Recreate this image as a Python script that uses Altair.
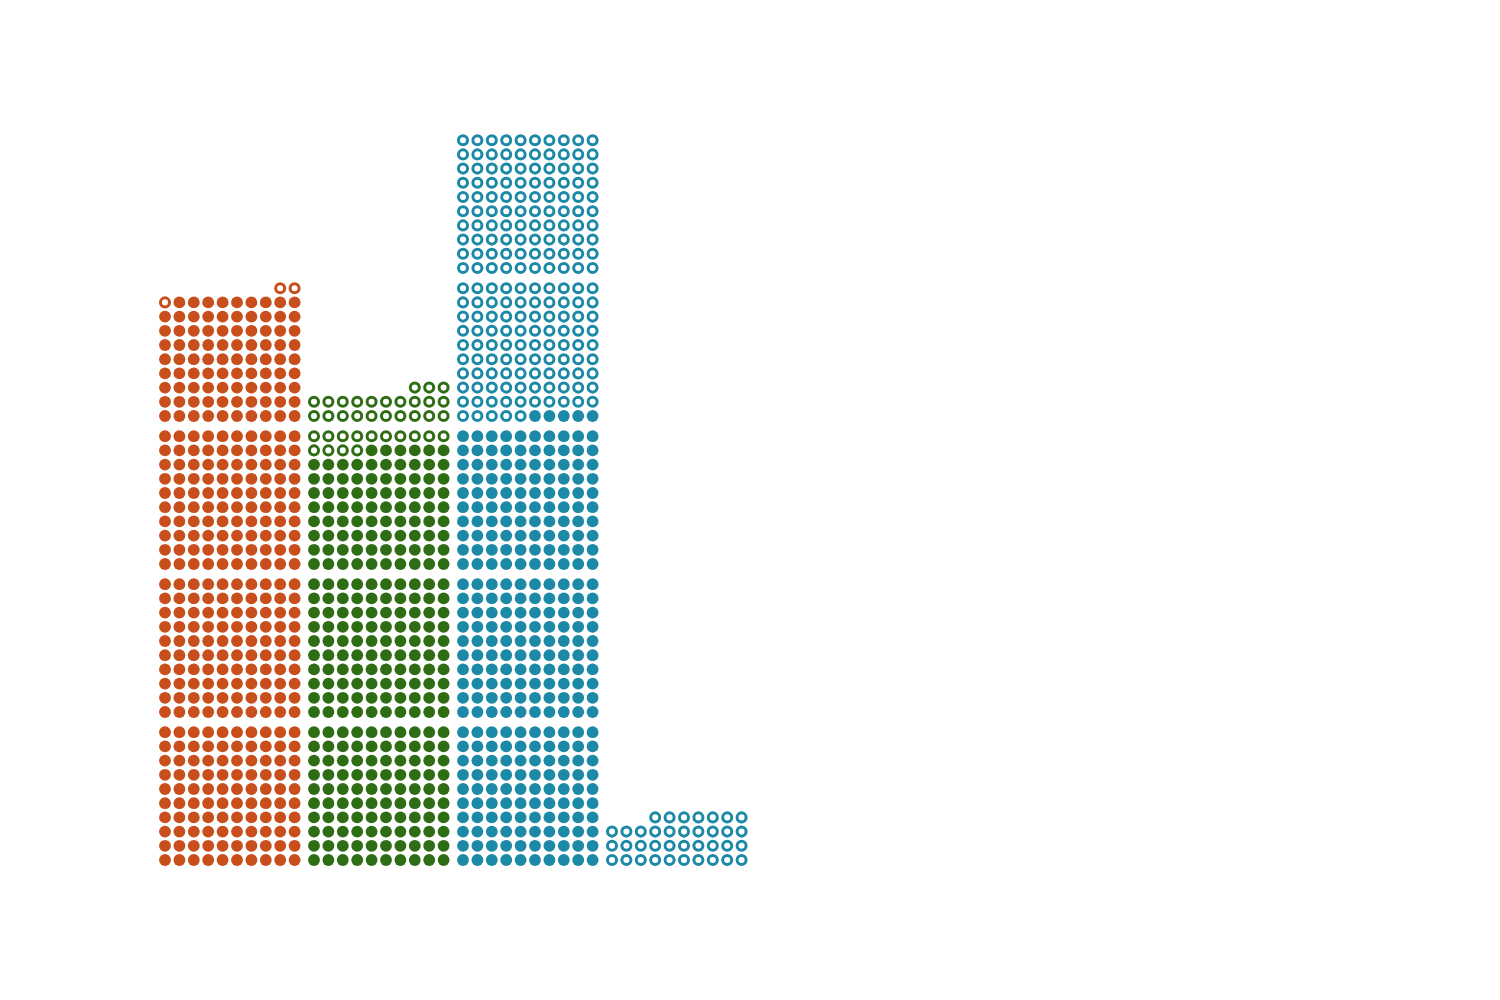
import altair as alt
import pandas as pd

categories = ["A", "B", "C", "D"]
filled_counts = [389, 286, 305, 0]
hollow_counts = [3, 37, 195, 37]
colors = ["#c84e1c", "#2f6d14", "#1c89a6", "#1c89a6"]

rows = []
for g, (cat, f, h) in enumerate(zip(categories, filled_counts, hollow_counts)):
    for k in range(f + h):
        block = k // 100
        within = k % 100
        r = within // 10
        c = 9 - within % 10
        rows.append({
            "category": cat,
            "status": "filled" if k < f else "hollow",
            "xv": c + g * (149 / 14.4),
            "yv": r + block * (148 / 14.2),
        })
df = pd.DataFrame(rows)

xs = alt.Scale(domain=[-165 / 14.4, (1500 - 165) / 14.4], nice=False, zero=False)
ys = alt.Scale(domain=[(860 - 1000) / 14.2, 860 / 14.2], nice=False, zero=False)
cs = alt.Scale(domain=categories, range=colors)

base = alt.Chart(df).encode(
    x=alt.X("xv:Q", scale=xs, axis=None),
    y=alt.Y("yv:Q", scale=ys, axis=None),
)

filled = base.transform_filter(alt.datum.status == "filled").mark_point(
    shape="circle", filled=True, size=140, opacity=1
).encode(color=alt.Color("category:N", scale=cs, legend=None))

hollow = base.transform_filter(alt.datum.status == "hollow").mark_point(
    shape="circle", filled=False, size=82, strokeWidth=3, opacity=1
).encode(stroke=alt.Stroke("category:N", scale=cs, legend=None))

chart = alt.layer(filled, hollow).properties(
    width=1500, height=1000, padding=0, autosize=alt.AutoSizeParams(type="none"),
    background="white",
).configure_view(stroke=None)

chart.save("out.html", embed_options={"renderer": "svg", "actions": False})
